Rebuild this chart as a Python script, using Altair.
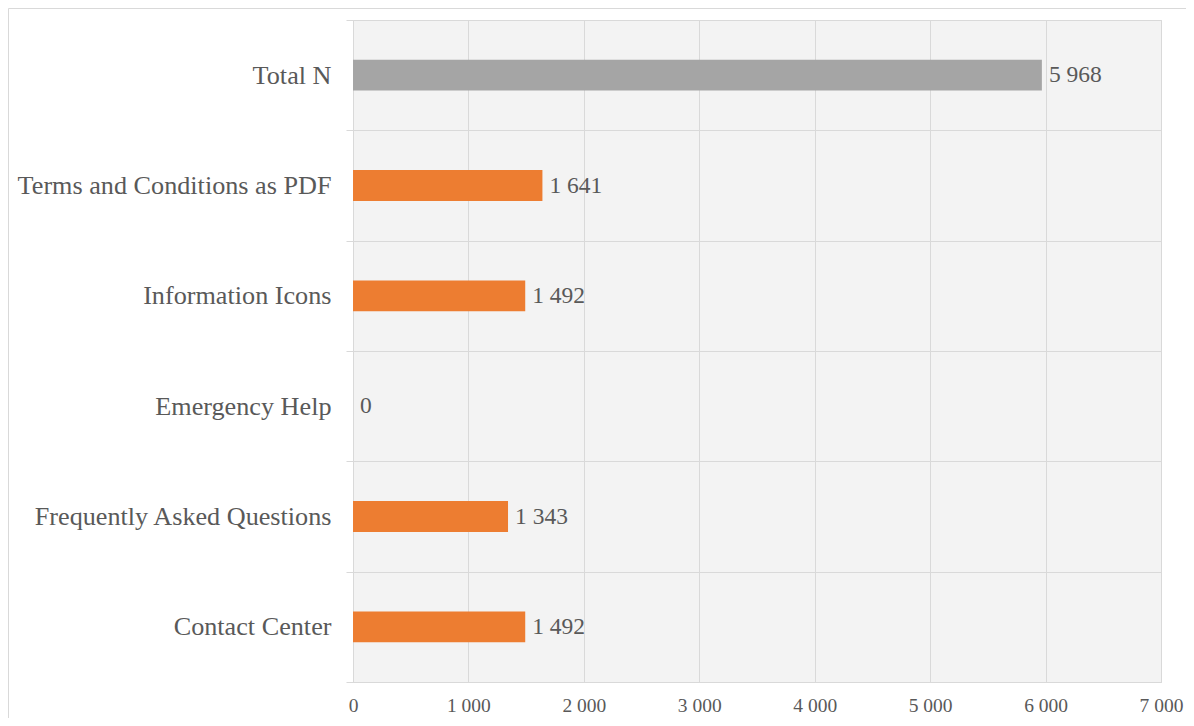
import altair as alt
import pandas as pd

categories = [
    "Total N",
    "Terms and Conditions as PDF",
    "Information Icons",
    "Emergency Help",
    "Frequently Asked Questions",
    "Contact Center",
]
values = [5968, 1641, 1492, 0, 1343, 1492]
groups = ["total", "item", "item", "item", "item", "item"]
x_ticks = [0, 1000, 2000, 3000, 4000, 5000, 6000, 7000]


def fmt(v):
    return f"{v:,}".replace(",", " ")


df = pd.DataFrame({
    "category": categories,
    "value": values,
    "group": groups,
    "label": [fmt(v) for v in values],
})

FONT = "Liberation Serif"
GRID = "#d9d9d9"
TXT = "#595959"
W, H = 808, 662

y_enc = alt.Y(
    "category:N", sort=categories, title=None,
    scale=alt.Scale(paddingInner=0, paddingOuter=0),
    axis=alt.Axis(grid=True, tickBand="extent", gridColor=GRID, tickColor=GRID,
                  tickSize=7, domain=False, labelFont=FONT, labelFontSize=26.2,
                  labelColor=TXT, labelPadding=15, labelLimit=400),
)
x_enc = alt.X(
    "value:Q", title=None,
    scale=alt.Scale(domain=[0, 7000], nice=False),
    axis=alt.Axis(values=x_ticks, grid=True, gridColor=GRID, ticks=False,
                  domainColor=GRID, labelFont=FONT, labelFontSize=19.5,
                  labelColor=TXT, labelPadding=23, labelBaseline="middle",
                  labelFlush=False,
                  labelExpr="replace(format(datum.value, ','), ',', ' ')"),
)

border = alt.Chart(pd.DataFrame({"a": [0]})).mark_rect(
    fillOpacity=0, stroke=GRID, strokeWidth=1, clip=False
).encode(
    x=alt.value(-344.5), x2=alt.value(900),
    y=alt.value(-11.5), y2=alt.value(720),
)

bars = alt.Chart(df).mark_bar(height=alt.RelativeBandSize(0.28)).encode(
    x=x_enc, y=y_enc,
    color=alt.Color("group:N", scale=alt.Scale(domain=["total", "item"],
                                               range=["#A5A5A5", "#ED7D31"]),
                    legend=None),
)

text = alt.Chart(df).mark_text(
    align="left", baseline="middle", dx=7, font=FONT, fontSize=23.5, color=TXT
).encode(
    x="value:Q",
    y=alt.Y("category:N", sort=categories),
    text="label:N",
)

chart = alt.layer(border, bars, text).properties(
    width=W, height=H,
    padding={"left": 345, "top": 12, "right": 25, "bottom": 36},
    autosize=alt.AutoSizeParams(type="none"),
).configure_view(fill="#f3f3f3", stroke=GRID)

chart.save("out.html", embed_options={"renderer": "svg", "actions": False})
